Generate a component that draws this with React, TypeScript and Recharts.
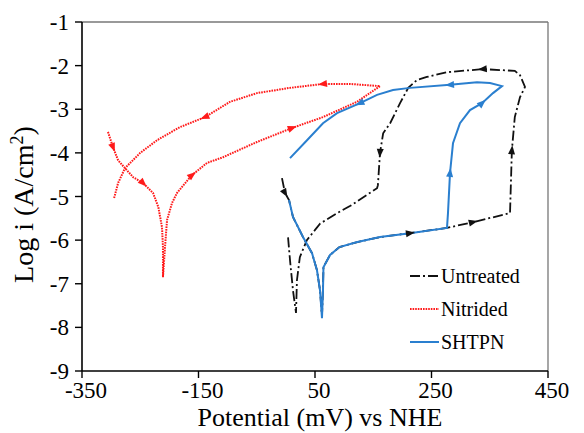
import React from 'react';
import { LineChart, Line, XAxis, YAxis, ReferenceLine, Legend, Label } from 'recharts';

const FONT = 'Liberation Serif';

const xTicks = [-350, -150, 50, 250, 450];
const yTicks = [-9, -8, -7, -6, -5, -4, -3, -2, -1];

const untreated = [
  { x: -6.7, y: -4.58 }, { x: -1.5, y: -4.92 }, { x: 5.4, y: -5.08 }, { x: 12.2, y: -5.47 },
  { x: 29.4, y: -5.93 }, { x: 44.9, y: -6.3 }, { x: 53.4, y: -6.69 }, { x: 58.6, y: -7.15 },
  { x: 62, y: -7.75 }, { x: 63.7, y: -7.1 }, { x: 64.5, y: -6.62 }, { x: 75.8, y: -6.34 },
  { x: 92, y: -6.16 }, { x: 121, y: -6.05 }, { x: 161.6, y: -5.93 }, { x: 213, y: -5.84 },
  { x: 276.6, y: -5.72 }, { x: 321, y: -5.59 }, { x: 384.8, y: -5.38 }, { x: 388, y: -3.94 },
  { x: 393, y: -3.18 }, { x: 402, y: -2.72 }, { x: 410.5, y: -2.49 }, { x: 402, y: -2.22 },
  { x: 393, y: -2.12 }, { x: 338, y: -2.08 }, { x: 276.6, y: -2.15 }, { x: 242, y: -2.26 },
  { x: 225, y: -2.33 }, { x: 210, y: -2.51 }, { x: 196, y: -2.86 }, { x: 179, y: -3.32 },
  { x: 167, y: -3.55 }, { x: 161.6, y: -4.0 }, { x: 158, y: -4.74 }, { x: 156.5, y: -4.81 },
  { x: 110, y: -5.22 }, { x: 88, y: -5.38 }, { x: 59, y: -5.62 }, { x: 36, y: -6.0 },
  { x: 24, y: -6.39 }, { x: 19, y: -6.92 }, { x: 17.4, y: -7.67 }, { x: 12.2, y: -7.15 },
  { x: 7.1, y: -6.46 }, { x: 3.7, y: -5.93 },
];
const untreatedArrows = [1, 15, 17, 19, 25, 33];

const nitrided = [
  { x: -305.4, y: -3.52 }, { x: -296.8, y: -3.87 }, { x: -288, y: -4.17 }, { x: -276.2, y: -4.35 },
  { x: -262, y: -4.56 }, { x: -245.3, y: -4.69 }, { x: -228, y: -4.92 }, { x: -219, y: -5.24 },
  { x: -212.7, y: -5.7 }, { x: -211, y: -6.16 }, { x: -211, y: -6.85 }, { x: -207.5, y: -6.16 },
  { x: -204, y: -5.54 }, { x: -195.5, y: -5.15 }, { x: -187, y: -4.92 }, { x: -161.2, y: -4.51 },
  { x: -135.4, y: -4.23 }, { x: -108, y: -4.1 }, { x: -49.6, y: -3.75 }, { x: 10.5, y: -3.43 },
  { x: 63.7, y: -3.18 }, { x: 122, y: -2.83 }, { x: 161.6, y: -2.47 }, { x: 110, y: -2.42 },
  { x: 63.7, y: -2.42 }, { x: 7, y: -2.51 }, { x: -49.6, y: -2.63 }, { x: -96, y: -2.83 },
  { x: -138.8, y: -3.18 }, { x: -182, y: -3.41 }, { x: -221.2, y: -3.71 }, { x: -250, y: -4.0 },
  { x: -276.2, y: -4.35 }, { x: -288, y: -4.69 }, { x: -295, y: -5.04 },
];
const nitridedArrows = [1, 5, 15, 19, 24, 28];

const shtpn = [
  { x: 5.4, y: -5.08 }, { x: 12.2, y: -5.47 }, { x: 29.4, y: -5.93 }, { x: 44.9, y: -6.3 },
  { x: 53.4, y: -6.69 }, { x: 58.6, y: -7.15 }, { x: 62, y: -7.79 }, { x: 63.7, y: -7.15 },
  { x: 64.5, y: -6.62 }, { x: 75.8, y: -6.34 }, { x: 92, y: -6.16 }, { x: 121, y: -6.05 },
  { x: 161.6, y: -5.93 }, { x: 213, y: -5.84 }, { x: 276.6, y: -5.72 }, { x: 278.3, y: -5.38 },
  { x: 281.8, y: -4.46 }, { x: 286.9, y: -3.78 }, { x: 298.9, y: -3.32 }, { x: 316.1, y: -3.02 },
  { x: 336.7, y: -2.86 }, { x: 355.6, y: -2.63 }, { x: 371, y: -2.47 }, { x: 350.4, y: -2.4 },
  { x: 328.1, y: -2.38 }, { x: 281.8, y: -2.44 }, { x: 213.1, y: -2.51 }, { x: 183.9, y: -2.56 },
  { x: 156.5, y: -2.67 }, { x: 127.3, y: -2.86 }, { x: 87.8, y: -3.09 }, { x: 63.7, y: -3.32 },
  { x: 36.3, y: -3.71 }, { x: 7.1, y: -4.12 },
];
const shtpnArrows = [16, 20, 25, 29];

const series = [
  { name: 'Untreated', data: untreated, arrows: untreatedArrows, color: '#111111', dash: '10 3 2 3', width: 1.8 },
  { name: 'Nitrided', data: nitrided, arrows: nitridedArrows, color: '#ff1a1a', dash: '1.6 1', width: 2 },
  { name: 'SHTPN', data: shtpn, arrows: shtpnArrows, color: '#2a7fcf', dash: undefined, width: 2 },
];

// pixel per unit (plot 466 x 349 for 800 mV x 8 decades)
const PX_X = 466 / 800;
const PX_Y = 349 / 8;

function makeDot(data, arrows, color) {
  return (props) => {
    const { cx, cy, index } = props;
    if (!arrows.includes(index) || cx == null) return <g key={`d${index}`} />;
    const p = data[index];
    const q = data[Math.min(index + 1, data.length - 1)];
    const ang = (Math.atan2(-(q.y - p.y) * PX_Y, (q.x - p.x) * PX_X) * 180) / Math.PI;
    return (
      <polygon
        key={`d${index}`}
        points="5,0 -4,-3.5 -4,3.5"
        fill={color}
        transform={`translate(${cx},${cy}) rotate(${ang})`}
      />
    );
  };
}

const XTick = (props) => {
  const { x, y, payload } = props;
  return (
    <text x={x + 4} y={y + 16} textAnchor="middle" style={{ fontFamily: FONT, fontSize: 23 }} fill="#000">
      {payload.value}
    </text>
  );
};

const YTick = (props) => {
  const { x, y, payload } = props;
  return (
    <text x={x} y={y + 8} textAnchor="end" style={{ fontFamily: FONT, fontSize: 23 }} fill="#000">
      {payload.value}
    </text>
  );
};

const renderLegend = () => (
  <div style={{ fontFamily: FONT, fontSize: 20, color: '#000' }}>
    {series.map((s) => (
      <div key={s.name} style={{ display: 'flex', alignItems: 'center', height: 33 }}>
        <svg width={31} height={10} style={{ display: 'block' }}>
          <line x1={0} y1={5} x2={29} y2={5} stroke={s.color} strokeWidth={s.width} strokeDasharray={s.dash} />
        </svg>
        <span style={{ lineHeight: '20px', fontFamily: FONT }}>{s.name}</span>
      </div>
    ))}
  </div>
);

export default function App() {
  return (
    <div style={{ position: 'absolute', left: 0, top: 0, background: '#fff' }}>
      <LineChart width={584} height={433} margin={{ top: 22, right: 36, bottom: 0, left: 0 }}>
        <XAxis
          type="number"
          dataKey="x"
          domain={[-350, 450]}
          ticks={xTicks}
          allowDataOverflow
          height={62}
          tickSize={7}
          tickMargin={4}
          axisLine={{ stroke: '#000', strokeWidth: 1.6 }}
          tickLine={{ stroke: '#000', strokeWidth: 1.4 }}
          tick={<XTick />}
        >
          <Label
            content={({ viewBox }) => (
              <text
                x={viewBox.x + viewBox.width / 2 + 5}
                y={viewBox.y + viewBox.height - 7}
                textAnchor="middle"
                style={{ fontFamily: FONT, fontSize: 26 }}
                fill="#000"
              >
                Potential (mV) vs NHE
              </text>
            )}
          />
        </XAxis>
        <YAxis
          type="number"
          domain={[-9, -1]}
          ticks={yTicks}
          allowDataOverflow
          width={82}
          tickSize={7}
          tickMargin={6}
          axisLine={{ stroke: '#000', strokeWidth: 1.6 }}
          tickLine={{ stroke: '#000', strokeWidth: 1.4 }}
          tick={<YTick />}
        >
          <Label
            content={({ viewBox }) => (
              <text
                x={-(viewBox.y + viewBox.height / 2 + 8)}
                y={33}
                transform="rotate(-90)"
                textAnchor="middle"
                style={{ fontFamily: FONT, fontSize: 28 }}
                fill="#000"
              >
                Log i (A/cm<tspan dy={-10} style={{ fontSize: 18 }}>2</tspan>
                <tspan dy={10}>)</tspan>
              </text>
            )}
          />
        </YAxis>
        <ReferenceLine y={-1} stroke="#777" strokeWidth={1.3} />
        <ReferenceLine x={450} stroke="#777" strokeWidth={1.3} />
        {series.map((s) => (
          <Line
            key={s.name}
            data={s.data}
            dataKey="y"
            name={s.name}
            type="linear"
            stroke={s.color}
            strokeWidth={s.width}
            strokeDasharray={s.dash}
            dot={makeDot(s.data, s.arrows, s.color)}
            activeDot={false}
            isAnimationActive={false}
          />
        ))}
        <Legend
          layout="vertical"
          align="center"
          verticalAlign="middle"
          wrapperStyle={{ left: 410, top: 259, width: 140 }}
          content={renderLegend}
        />
      </LineChart>
    </div>
  );
}
